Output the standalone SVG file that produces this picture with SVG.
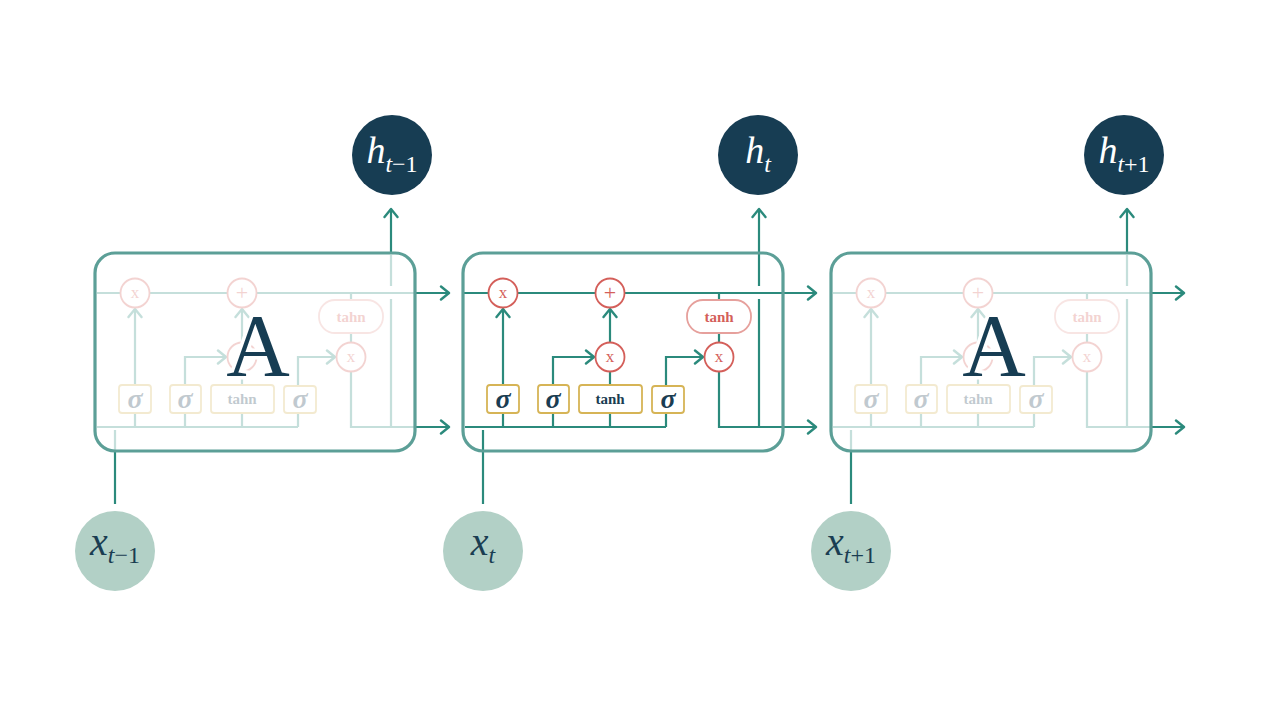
<svg xmlns="http://www.w3.org/2000/svg" xmlns:xlink="http://www.w3.org/1999/xlink" width="1284" height="722" viewBox="0 0 1284 722">
<style>
.ln{fill:none;stroke:#2b8a7c;stroke-width:2.2}
.ar{fill:none;stroke:#2b8a7c;stroke-width:2.2;marker-end:url(#ah)}
.box{fill:none;stroke:#5c9f97;stroke-width:3.2}
.op{fill:#fff;stroke:#d45f5a;stroke-width:1.8}
.opt{font-family:"Liberation Serif","DejaVu Serif",serif;fill:#d45f5a;text-anchor:middle}
.gate{fill:#fff;stroke:#d6b456;stroke-width:1.8}
.sig{font-family:"Liberation Serif","DejaVu Serif",serif;font-style:italic;font-weight:bold;font-size:28px;fill:#1a3d52;text-anchor:middle}
.tnh{font-family:"Liberation Serif","DejaVu Serif",serif;font-weight:bold;font-size:15px;fill:#1a3d52;text-anchor:middle}
.pill{fill:#fff;stroke:#e6a09c;stroke-width:1.8}
.pt{font-family:"Liberation Serif","DejaVu Serif",serif;font-weight:bold;font-size:15px;fill:#d45f5a;text-anchor:middle}
.math{font-family:"Liberation Serif","DejaVu Serif",serif;text-anchor:middle}
.hc{fill:#173d53}
.xc{fill:#b2d0c6}
.bigA{font-family:"Liberation Serif","DejaVu Serif",serif;font-size:88px;fill:#173d53;text-anchor:middle;stroke:#fff;stroke-width:7;paint-order:stroke}
</style>
<defs>
<marker id="ah" viewBox="-10 -8 12 16" refX="0" refY="0" markerWidth="12" markerHeight="16" markerUnits="userSpaceOnUse" orient="auto">
<path d="M-8,-6.5 L0,0 L-8,6.5" fill="none" stroke="#2b8a7c" stroke-width="2.4" stroke-linecap="round" stroke-linejoin="round"/>
</marker>
<g id="fadedInner">
<g opacity="0.27">
<line class="ln" x1="465" y1="293" x2="782" y2="293"/>
<line class="ln" x1="465" y1="427" x2="666" y2="427"/>
<path class="ln" d="M719,372 V427 H782"/>
<line class="ln" x1="759" y1="299" x2="759" y2="427"/>
<line class="ln" x1="759" y1="255" x2="759" y2="286"/>
<line class="ln" x1="483" y1="430" x2="483" y2="451"/>
<line class="ar" x1="503" y1="385" x2="503" y2="309"/>
<line class="ar" x1="610" y1="342" x2="610" y2="309"/>
<line class="ln" x1="610" y1="385" x2="610" y2="372"/>
<path class="ar" d="M553,385 V357 H594"/>
<path class="ar" d="M666,386 V357 H703"/>
<line class="ln" x1="503" y1="413" x2="503" y2="427"/>
<line class="ln" x1="553" y1="413" x2="553" y2="427"/>
<line class="ln" x1="610" y1="413" x2="610" y2="427"/>
<line class="ln" x1="666" y1="413" x2="666" y2="427"/>
<line class="ln" x1="719" y1="293" x2="719" y2="342"/>
<circle class="op" cx="503" cy="293" r="14.5"/><text class="opt" x="503" y="298" font-size="17">x</text>
<circle class="op" cx="610" cy="293" r="14.5"/><text class="opt" x="610" y="300" font-size="22">+</text>
<circle class="op" cx="610" cy="357" r="14.5"/>
<circle class="op" cx="719" cy="357" r="14.5"/><text class="opt" x="719" y="362" font-size="17">x</text>
<rect class="pill" x="687" y="300" width="64" height="33" rx="16"/><text class="pt" x="719" y="322">tahn</text>
<rect class="gate" x="487" y="385" width="32" height="28" rx="3"/><text class="sig" x="503" y="408">σ</text>
<rect class="gate" x="538" y="385" width="31" height="28" rx="3"/><text class="sig" x="553" y="408">σ</text>
<rect class="gate" x="579" y="385" width="63" height="28" rx="3"/><text class="tnh" x="610" y="404">tahn</text>
<rect class="gate" x="652" y="386" width="32" height="27" rx="3"/><text class="sig" x="668" y="408">σ</text>
</g>
<text class="bigA" x="626" y="375">A</text>
</g>
</defs>

<g id="connectors">
<line class="ar" x1="415" y1="293" x2="449" y2="293"/>
<line class="ar" x1="415" y1="427" x2="449" y2="427"/>
<line class="ar" x1="391" y1="254" x2="391" y2="209"/>
<line class="ln" x1="115" y1="451" x2="115" y2="504"/>
<line class="ar" x1="462" y1="293" x2="816" y2="293"/>
<line class="ln" x1="465" y1="427" x2="666" y2="427"/>
<path class="ar" d="M719,372 V427 H816"/>
<line class="ln" x1="759" y1="427" x2="759" y2="299"/>
<line class="ar" x1="759" y1="286" x2="759" y2="209"/>
<line class="ln" x1="483" y1="430" x2="483" y2="504"/>
<line class="ar" x1="503" y1="385" x2="503" y2="309"/>
<line class="ar" x1="610" y1="342" x2="610" y2="309"/>
<line class="ln" x1="610" y1="385" x2="610" y2="372"/>
<path class="ar" d="M553,385 V357 H594"/>
<path class="ar" d="M666,386 V357 H703"/>
<line class="ln" x1="503" y1="413" x2="503" y2="427"/>
<line class="ln" x1="553" y1="413" x2="553" y2="427"/>
<line class="ln" x1="610" y1="413" x2="610" y2="427"/>
<line class="ln" x1="666" y1="413" x2="666" y2="427"/>
<line class="ln" x1="719" y1="293" x2="719" y2="300"/>
<line class="ln" x1="719" y1="333" x2="719" y2="342"/>
<line class="ar" x1="1151" y1="293" x2="1184" y2="293"/>
<line class="ar" x1="1151" y1="427" x2="1184" y2="427"/>
<line class="ar" x1="1127" y1="254" x2="1127" y2="209"/>
<line class="ln" x1="851" y1="451" x2="851" y2="504"/>
</g>

<g id="cell-prev">
<use xlink:href="#fadedInner" href="#fadedInner" transform="translate(-368,0)"/>
<rect class="box" x="95" y="253" width="320" height="198" rx="20"/>
</g>
<g id="cell-current">
<rect class="box" x="463" y="253" width="320" height="198" rx="20"/>
<g id="op-forget"><circle class="op" cx="503" cy="293" r="14.5"/><text class="opt" x="503" y="298" font-size="17">x</text></g>
<g id="op-add"><circle class="op" cx="610" cy="293" r="14.5"/><text class="opt" x="610" y="300" font-size="22">+</text></g>
<g id="op-input"><circle class="op" cx="610" cy="357" r="14.5"/><text class="opt" x="610" y="362" font-size="17">x</text></g>
<g id="op-output"><circle class="op" cx="719" cy="357" r="14.5"/><text class="opt" x="719" y="362" font-size="17">x</text></g>
<g id="tanh-pill"><rect class="pill" x="687" y="300" width="64" height="33" rx="16"/><text class="pt" x="719" y="322">tanh</text></g>
<g id="gate-f"><rect class="gate" x="487" y="385" width="32" height="28" rx="3"/><text class="sig" x="503" y="408">σ</text></g>
<g id="gate-i"><rect class="gate" x="538" y="385" width="31" height="28" rx="3"/><text class="sig" x="553" y="408">σ</text></g>
<g id="gate-c"><rect class="gate" x="579" y="385" width="63" height="28" rx="3"/><text class="tnh" x="610" y="404">tanh</text></g>
<g id="gate-o"><rect class="gate" x="652" y="386" width="32" height="27" rx="3"/><text class="sig" x="668" y="408">σ</text></g>
</g>
<g id="cell-next">
<use xlink:href="#fadedInner" href="#fadedInner" transform="translate(368,0)"/>
<rect class="box" x="831" y="253" width="320" height="198" rx="20"/>
</g>

<g id="h-prev"><circle class="hc" cx="392" cy="155" r="40"/><text class="math" x="392" y="163" fill="#fff"><tspan font-style="italic" font-size="38">h</tspan><tspan font-size="24" dy="9"><tspan font-style="italic">t</tspan>−1</tspan></text></g>
<g id="h-cur"><circle class="hc" cx="758" cy="155" r="40"/><text class="math" x="758" y="163" fill="#fff"><tspan font-style="italic" font-size="38">h</tspan><tspan font-size="24" dy="9" font-style="italic">t</tspan></text></g>
<g id="h-next"><circle class="hc" cx="1124" cy="155" r="40"/><text class="math" x="1124" y="163" fill="#fff"><tspan font-style="italic" font-size="38">h</tspan><tspan font-size="24" dy="9"><tspan font-style="italic">t</tspan>+1</tspan></text></g>
<g id="x-prev"><circle class="xc" cx="115" cy="551" r="40"/><text class="math" x="115" y="555" fill="#1a3d52"><tspan font-style="italic" font-size="40">x</tspan><tspan font-size="24" dy="8"><tspan font-style="italic">t</tspan>−1</tspan></text></g>
<g id="x-cur"><circle class="xc" cx="483" cy="551" r="40"/><text class="math" x="483" y="555" fill="#1a3d52"><tspan font-style="italic" font-size="40">x</tspan><tspan font-size="24" dy="8" font-style="italic">t</tspan></text></g>
<g id="x-next"><circle class="xc" cx="851" cy="551" r="40"/><text class="math" x="851" y="555" fill="#1a3d52"><tspan font-style="italic" font-size="40">x</tspan><tspan font-size="24" dy="8"><tspan font-style="italic">t</tspan>+1</tspan></text></g>
</svg>
